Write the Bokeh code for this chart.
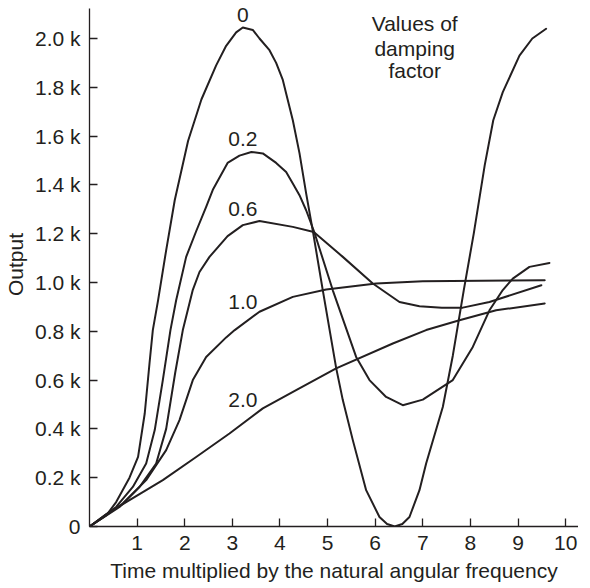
from bokeh.plotting import figure
from bokeh.models import FixedTicker, Range1d
from bokeh.core.properties import value
from bokeh.embed import file_html
from bokeh.resources import INLINE

# ---------------- data ----------------
x_ticks = [1, 2, 3, 4, 5, 6, 7, 8, 9, 10]
y_ticks = [0, 0.2, 0.4, 0.6, 0.8, 1.0, 1.2, 1.4, 1.6, 1.8, 2.0]
y_tick_labels = ["0", "0.2 k", "0.4 k", "0.6 k", "0.8 k", "1.0 k",
                 "1.2 k", "1.4 k", "1.6 k", "1.8 k", "2.0 k"]

# damping factor 0
x_d0 = [0, 0.35, 0.56, 0.84, 1.02, 1.16, 1.26, 1.33, 1.44, 1.61, 1.79, 2.07,
        2.35, 2.66, 2.87, 3.08, 3.22, 3.43, 3.57, 3.78, 3.92, 4.06, 4.13, 4.27,
        4.41, 4.55, 4.70, 4.90, 5.18, 5.32, 5.53, 5.81, 6.09, 6.25, 6.41, 6.57,
        6.72, 6.93, 7.07, 7.42, 7.63, 7.86, 8.07, 8.30, 8.48, 8.68, 9.03, 9.30,
        9.59]
y_d0 = [0, 0.045, 0.10, 0.20, 0.285, 0.463, 0.668, 0.805, 0.927, 1.132, 1.337,
        1.58, 1.75, 1.89, 1.97, 2.025, 2.045, 2.035, 2.0, 1.952, 1.90, 1.83,
        1.775, 1.665, 1.53, 1.365, 1.20, 0.968, 0.650, 0.518, 0.354, 0.149,
        0.039, 0.01, 0.0, 0.01, 0.039, 0.149, 0.258, 0.49, 0.70, 0.968, 1.20,
        1.48, 1.665, 1.78, 1.93, 2.0, 2.04]

# damping factor 0.2
x_d02 = [0, 0.56, 0.91, 1.19, 1.37, 1.54, 1.70, 1.82, 2.03, 2.24, 2.45, 2.59,
         2.90, 3.15, 3.40, 3.64, 3.92, 4.13, 4.27, 4.41, 4.55, 4.72, 5.11, 5.60,
         5.88, 6.23, 6.58, 7.00, 7.63, 8.05, 8.40, 8.68, 8.89, 9.24, 9.66]
y_d02 = [0, 0.08, 0.162, 0.258, 0.395, 0.60, 0.805, 0.927, 1.105, 1.21, 1.31,
         1.38, 1.49, 1.52, 1.535, 1.529, 1.49, 1.453, 1.406, 1.358, 1.296,
         1.207, 0.968, 0.695, 0.60, 0.531, 0.497, 0.52, 0.60, 0.736, 0.886,
         0.969, 1.016, 1.064, 1.08]

# damping factor 0.6
x_d06 = [0, 0.63, 1.05, 1.40, 1.61, 1.80, 1.96, 2.17, 2.31, 2.52, 2.90, 3.22,
         3.57, 4.27, 4.71, 5.32, 5.95, 6.51, 6.93, 7.40, 7.84, 8.40, 9.49]
y_d06 = [0, 0.08, 0.162, 0.258, 0.40, 0.63, 0.805, 0.97, 1.043, 1.105, 1.19,
         1.235, 1.252, 1.228, 1.207, 1.105, 0.996, 0.92, 0.903, 0.897, 0.897,
         0.92, 0.989]

# damping factor 1.0
x_d10 = [0, 0.70, 1.19, 1.61, 1.89, 2.17, 2.45, 2.87, 3.05, 3.57, 4.27, 4.97,
         6.02, 7.0, 9.56]
y_d10 = [0, 0.094, 0.19, 0.313, 0.436, 0.60, 0.695, 0.775, 0.805, 0.88, 0.941,
         0.971, 0.996, 1.005, 1.009]

# damping factor 2.0
x_d20 = [0, 0.35, 0.84, 1.54, 2.24, 2.94, 3.64, 4.34, 5.18, 6.37, 7.07, 7.77,
         8.54, 9.56]
y_d20 = [0, 0.05, 0.108, 0.19, 0.285, 0.381, 0.484, 0.559, 0.648, 0.75, 0.805,
         0.845, 0.886, 0.914]

curve_labels = ["0", "0.2", "0.6", "1.0", "2.0"]
note_lines = ["Values of", "damping", "factor"]

# ---------------- styling / placement ----------------
INK = "#231f20"
FONT = "Liberation Sans"
FS = "21px"

label_x = [3.22, 3.22, 3.22, 3.22, 3.22]
label_y = [2.095, 1.59, 1.303, 0.92, 0.518]
note_x = [6.83, 6.83, 6.83]
note_y = [2.06, 1.96, 1.87]

p = figure(frame_width=489, frame_height=524,
           x_range=Range1d(0, 10.27), y_range=Range1d(0, 2.1475),
           output_backend="svg", toolbar_location=None,
           min_border_left=85, min_border_right=0,
           min_border_top=2, min_border_bottom=58)
p.xgrid.visible = False
p.ygrid.visible = False
p.outline_line_color = None
p.background_fill_color = "white"
p.border_fill_color = "white"

for xs, ys in [(x_d0, y_d0), (x_d02, y_d02), (x_d06, y_d06),
               (x_d10, y_d10), (x_d20, y_d20)]:
    p.line(xs, ys, line_width=2, line_color=INK, line_join="round",
           line_cap="round")

p.text(x=label_x, y=label_y, text=curve_labels,
       text_font=value(FONT), text_font_size=FS, text_color=INK,
       text_align="center", text_baseline="middle")
p.text(x=note_x, y=note_y, text=note_lines,
       text_font=value(FONT), text_font_size=FS, text_color=INK,
       text_align="center", text_baseline="middle")

# axes
p.xaxis.ticker = FixedTicker(ticks=x_ticks)
p.yaxis.ticker = FixedTicker(ticks=y_ticks)
p.yaxis.major_label_overrides = dict(zip(y_ticks, y_tick_labels))
p.yaxis.bounds = (0, 2.121)

for ax in (p.xaxis[0], p.yaxis[0]):
    ax.axis_line_color = INK
    ax.axis_line_width = 1.3
    ax.major_tick_line_color = INK
    ax.major_tick_line_width = 1.3
    ax.major_tick_in = 8
    ax.major_tick_out = 0
    ax.minor_tick_line_color = None
    ax.major_label_text_font = FONT
    ax.major_label_text_font_size = FS
    ax.major_label_text_color = INK
    ax.axis_label_text_font = FONT
    ax.axis_label_text_font_size = FS
    ax.axis_label_text_color = INK
    ax.axis_label_text_font_style = "normal"

p.xaxis.axis_label = "Time multiplied by the natural angular frequency"
p.yaxis.axis_label = "Output"
p.xaxis.major_label_standoff = 9
p.xaxis.axis_label_standoff = 6
p.yaxis.major_label_standoff = 9
p.yaxis.axis_label_standoff = 5

open("out.html", "w").write(file_html(p, INLINE))
